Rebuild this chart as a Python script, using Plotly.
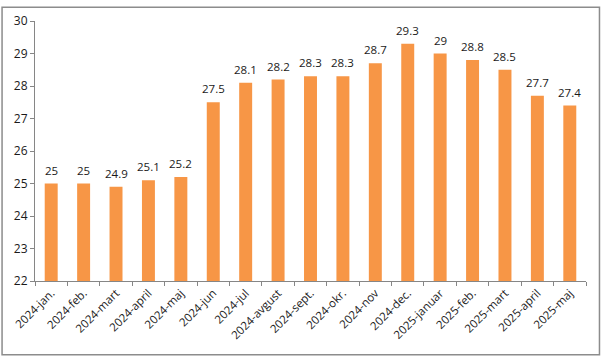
import plotly.graph_objects as go

categories = ["2024-jan.", "2024-feb.", "2024-mart", "2024-april", "2024-maj", "2024-jun",
              "2024-jul", "2024-avgust", "2024-sept.", "2024-okr.", "2024-nov", "2024-dec.",
              "2025-januar", "2025-feb.", "2025-mart", "2025-april", "2025-maj"]
values = [25, 25, 24.9, 25.1, 25.2, 27.5, 28.1, 28.2, 28.3, 28.3, 28.7, 29.3, 29, 28.8, 28.5, 27.7, 27.4]
y_ticks = [22, 23, 24, 25, 26, 27, 28, 29, 30]

W, H = 601, 358
L, R, T, B = 34, 15, 15, 77
pw, ph = W - L - R, H - T - B
FONT = "Open Sans, Liberation Sans, sans-serif"

fig = go.Figure(go.Bar(
    x=categories, y=values,
    marker=dict(color="#F79646", line=dict(width=0)),
    cliponaxis=False,
))

annotations = [dict(x=c, y=v, text=f"{v:g}", showarrow=False, yanchor="bottom", yshift=4,
                    font=dict(family=FONT, size=11.5, color="#1a1a1a"))
               for c, v in zip(categories, values)]

fig.update_layout(
    width=W, height=H,
    margin=dict(l=L, r=R, t=T, b=B),
    paper_bgcolor="white", plot_bgcolor="white",
    bargap=0.6, showlegend=False,
    font=dict(family=FONT, size=11, color="#1a1a1a"),
    annotations=annotations,
    xaxis=dict(
        type="category", tickangle=-45, showgrid=False, showline=True, linecolor="#868686",
        linewidth=1, ticks="outside", ticklen=4, tickcolor="#868686", tickson="boundaries",
        tickfont=dict(size=11.5),
    ),
    yaxis=dict(
        range=[22, 30], tickvals=y_ticks, showgrid=False, showline=True, linecolor="#868686",
        linewidth=1, ticks="outside", ticklen=4, tickcolor="#868686", zeroline=False,
        tickfont=dict(size=12),
    ),
    shapes=[dict(
        type="rect", xref="paper", yref="paper",
        x0=(1 - L) / pw, x1=(W - 1.5 - L) / pw,
        y0=-(H - 1.5 - (H - B)) / ph, y1=1 + (T - 1) / ph,
        line=dict(color="#8c8c8c", width=1.5), layer="below",
    )],
)

fig.write_html("out.html", config={"displayModeBar": False},
               post_script="document.body.style.margin='0';document.body.style.padding='0';")
